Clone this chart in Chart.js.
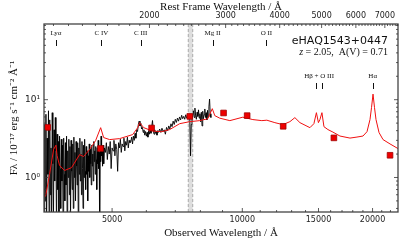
<!DOCTYPE html>
<html>
<head>
<meta charset="utf-8">
<script src="https://cdn.jsdelivr.net/npm/chart.js@4.4.0/dist/chart.umd.min.js"></script>
<style>html,body{margin:0;padding:0;background:#fff;}</style>
</head>
<body>
<canvas id="c" width="407" height="242"></canvas>
<script>
const redshift = 2.05;
const obsMin = 3480, obsMax = 22900;
const fluxMin = 0.36, fluxMax = 94;

// observed spectrum (black)
const specWave = [
  3480,3492,3504,3516,3528,3540,3552,3564,3576,3588,
  3600,3612,3624,3636,3648,3660,3672,3684,3696,3708,
  3720,3732,3744,3756,3768,3780,3792,3804,3816,3828,
  3840,3852,3864,3876,3888,3900,3912,3924,3936,3948,
  3960,3972,3984,3996,4008,4020,4032,4044,4056,4068,
  4080,4092,4104,4116,4128,4140,4152,4164,4176,4188,
  4200,4212,4224,4236,4248,4260,4272,4284,4296,4308,
  4320,4332,4344,4356,4368,4380,4392,
  4404,4416,4428,4440,4452,4464,4476,4488,4500,4512,
  4524,4536,4548,4560,4572,4584,4596,4608,4620,4632,
  4644,4656,4668,4680,4692,4704,4716,4728,4740,4752,
  4764,4776,4788,4800,
  4825,4850,4875,4900,4925,4950,4975,5000,5025,5050,
  5075,5100,5125,5150,5175,5200,5225,5250,5275,5300,
  5325,5350,5375,5400,5425,5450,5475,5500,
  5525,5550,5575,5600,5625,5650,5675,5700,5725,5750,
  5775,5800,5825,5850,5875,5900,5925,5950,5975,6000,
  6025,6050,6075,6100,6125,6150,6175,6200,6225,6250,
  6275,6300,6325,6350,6375,6400,
  6440,6480,6520,6560,6600,6640,6680,6720,6760,6800,
  6840,6880,6920,6960,7000,7040,7080,7120,7160,7200,
  7240,7280,7320,7360,7400,7440,7480,7520,
  7560,7590,7620,7650,7680,7710,7740,7770,7800,7830,
  7860,7890,7920,7950,7980,8010,8040,8070,8100,8130,
  8160,8190,8220,8250,8280,8310,8340,8370,8400,8430,8460
];
const specFlux = [
  0.3,4.8,0.5,6.5,0.2,3.2,1.1,7.2,0.3,5.5,
  0.6,2.4,0.2,6.8,1.5,0.3,4.1,0.9,5.9,2.2,
  0.2,3.6,0.7,2.9,0.3,3.4,1.3,0.4,3.1,0.9,
  2.6,0.25,3.2,1.1,0.5,2.8,0.8,3.4,0.3,2.2,
  1.0,3.1,0.6,2.5,0.3,3.0,1.2,0.7,2.7,0.4,
  3.3,1.0,2.1,0.5,2.9,1.4,0.8,2.8,0.3,2.4,
  1.1,3.2,0.9,2.0,0.6,2.9,1.3,0.4,2.6,1.0,
  3.1,1.2,0.7,2.5,1.1,2.2,0.5,
  1.9,1.2,2.7,1.0,2.3,1.5,0.8,2.6,1.4,2.0,
  0.9,2.9,1.6,2.2,1.1,2.5,1.7,0.7,2.4,1.5,
  3.0,1.3,2.1,0.2,2.4,1.6,3.4,1.9,2.3,1.4,
  2.6,2.0,1.5,2.4,
  2.1,2.8,1.7,2.5,2.0,2.9,1.3,2.4,2.2,3.0,
  1.9,2.7,2.3,1.2,2.8,2.4,3.1,2.1,2.7,2.5,
  3.2,2.2,2.9,2.6,3.3,2.4,3.0,2.8,
  2.9,3.3,2.7,3.4,3.0,3.7,3.2,4.1,3.9,4.8,
  5.3,4.6,5.0,4.2,4.4,3.8,4.1,3.5,3.9,3.4,
  3.8,3.3,4.0,3.6,4.3,3.7,4.5,5.4,4.0,3.6,
  4.1,3.7,3.9,3.5,4.0,3.8,
  4.2,3.8,4.3,3.9,4.1,3.6,4.4,4.0,4.6,4.2,
  4.9,4.5,5.3,4.8,5.6,5.1,5.8,5.3,6.0,5.5,
  6.3,5.7,6.1,5.6,6.4,5.8,6.2,5.9,
  5.8,1.9,4.8,5.6,6.3,7.2,5.9,7.8,6.2,5.6,
  6.9,6.1,7.4,5.8,6.6,5.2,6.9,4.6,7.1,5.7,
  6.4,7.6,5.9,6.8,5.5,7.3,6.0,8.1,10.2,6.6,5.9
];

// quasar model (red line)
const modelWave = [3509,3584,3662,3709,3731,3780,3882,4030,4206,4295,4436,4580,4705,4780,4935,5204,
  5579,5731,5790,5916,6206,6511,6794,7167,7558,7973,8322,8523,8636,8868,9357,10027,10576,11094,
  11394,11891,12407,12882,13228,13589,14330,14637,14834,14992,15113,15276,15440,15771,16198,16814,
  17737,18408,19005,19417,19729,19888,20049,20211,20370,20701,21145,21948,22909];
const modelFlux = [0.57,1.09,2.29,2.6,1.91,1.43,1.23,1.34,1.97,1.86,2.29,2.98,4.37,3.26,3.07,3.16,
  3.56,4.37,5.07,4.37,3.95,3.88,4.13,4.92,5.22,5.38,5.7,7.67,6.24,5.79,5.38,5.96,5.55,5.38,
  5.45,5.07,4.78,5.22,5.88,5.07,4.37,4.92,6.81,5.07,5.55,6.81,4.5,4.13,3.83,3.41,
  3.21,3.31,3.41,3.88,5.55,7.9,11.8,7.9,5.55,3.78,3.07,2.7,2.35];

// photometry (red squares)
const photWave = [3550, 4700, 6170, 7560, 9050, 10260, 12430, 16280, 21950];
const photFlux = [4.4, 2.36, 4.33, 6.1, 6.75, 6.24, 4.55, 3.23, 1.93];

// emission lines (rest frame)
const lineLabels = ['Lyα', 'C IV', 'C III', 'Mg II', 'O II', 'Hβ + O III', 'Hα'];
const lineGroups = [[1216], [1549], [1909], [2799], [3727], [4861, 5007], [6563]];
const lineRow = [0, 0, 0, 0, 0, 1, 1];

// telluric band (observed)
const bandLo = 7500, bandHi = 7680;

// axis ticks
const obsLabels = [5000, 10000, 15000, 20000];
const restLabels = [2000, 3000, 4000, 5000, 6000, 7000];
const yLabels = [1, 10];
const yLabelText = ['10⁰', '10¹'];

const obsTicks = [];
for (let w = 4000; w <= 22000; w += 1000) obsTicks.push(w);
const restTicks = [];
for (let w = 1200; w <= 7500; w += 100) restTicks.push(w);
const yTicks = [];
[0.1, 1, 10].forEach(d => { for (let k = 1; k <= 9; k++) { const v = +(k * d).toPrecision(2); if (v >= fluxMin && v <= fluxMax) yTicks.push(v); } });

const pts = (xs, ys) => xs.map((x, i) => ({ x: x, y: ys[i] }));

const decor = {
  id: 'decor',
  beforeDatasetsDraw(chart) {
    const { ctx, chartArea: a, scales: { x } } = chart;
    const l = x.getPixelForValue(bandLo), r = x.getPixelForValue(bandHi);
    ctx.save();
    ctx.fillStyle = 'rgba(200,200,200,0.6)';
    ctx.fillRect(l, a.top, r - l, a.bottom - a.top);
    ctx.strokeStyle = '#aaaaaa';
    ctx.lineWidth = 1;
    ctx.setLineDash([3, 2]);
    [l, r].forEach(p => { ctx.beginPath(); ctx.moveTo(p, a.top); ctx.lineTo(p, a.bottom); ctx.stroke(); });
    ctx.restore();
  },
  afterDatasetsDraw(chart) {
    const { ctx, chartArea: a, scales: { x, x2, y } } = chart;
    ctx.save();
    // frame
    ctx.strokeStyle = '#444';
    ctx.lineWidth = 1.3;
    ctx.strokeRect(a.left, a.top, a.right - a.left, a.bottom - a.top);
    // inward ticks
    ctx.lineWidth = 0.8;
    ctx.strokeStyle = '#333';
    const seg = (x1, y1, x2_, y2) => { ctx.beginPath(); ctx.moveTo(x1, y1); ctx.lineTo(x2_, y2); ctx.stroke(); };
    x.ticks.forEach(t => {
      const p = x.getPixelForValue(t.value), len = obsLabels.includes(t.value) ? 4 : 2;
      seg(p, a.bottom, p, a.bottom - len);
    });
    x2.ticks.forEach(t => {
      const p = x2.getPixelForValue(t.value), len = restLabels.includes(t.value) ? 4 : 2;
      seg(p, a.top, p, a.top + len);
    });
    y.ticks.forEach(t => {
      const p = y.getPixelForValue(t.value), len = yLabels.includes(t.value) ? 4 : 2;
      seg(a.left, p, a.left + len, p);
      seg(a.right, p, a.right - len, p);
    });
    // emission line markers
    ctx.fillStyle = '#111';
    ctx.strokeStyle = '#111';
    ctx.lineWidth = 1;
    ctx.font = '7px "Liberation Serif"';
    ctx.textAlign = 'center';
    ctx.textBaseline = 'middle';
    lineGroups.forEach((g, i) => {
      const px = g.map(w => x.getPixelForValue(w * (1 + redshift)));
      const rowTop = lineRow[i] === 0 ? a.top + 9 : a.top + 52;
      const mid = px.reduce((s, v) => s + v, 0) / px.length;
      ctx.fillText(lineLabels[i], mid, rowTop);
      px.forEach(p => seg(Math.round(p) + 0.5, rowTop + 7, Math.round(p) + 0.5, rowTop + 13));
    });
    // object name and parameters
    ctx.textAlign = 'right';
    ctx.font = '11px "DejaVu Sans"';
    ctx.fillText('eHAQ1543+0447', a.right - 10, a.top + 17);
    ctx.font = '10px "Liberation Serif"';
    const rest = ' = 2.05,  A(V) = 0.71';
    ctx.fillText(rest, a.right - 10, a.top + 28);
    const wRest = ctx.measureText(rest).width;
    ctx.font = 'italic 10px "Liberation Serif"';
    ctx.fillText('z', a.right - 10 - wRest, a.top + 28);
    ctx.restore();
  }
};

const tickFont = { family: 'DejaVu Sans', size: 8 };
const titleFont = { family: 'Liberation Serif', size: 11 };

new Chart(document.getElementById('c'), {
  type: 'line',
  data: {
    datasets: [
      { label: 'photometry', data: pts(photWave, photFlux), showLine: false, pointStyle: 'rect',
        pointRadius: 4, backgroundColor: '#ee0000', borderColor: '#a00000', borderWidth: 0.8 },
      { label: 'model', data: pts(modelWave, modelFlux), borderColor: '#f01010', borderWidth: 1,
        pointRadius: 0, tension: 0 },
      { label: 'spectrum', data: pts(specWave, specFlux), borderColor: '#000', borderWidth: 0.9,
        pointRadius: 0, tension: 0 }
    ]
  },
  options: {
    responsive: false,
    animation: false,
    devicePixelRatio: 1,
    layout: { padding: { left: 0, right: 9, top: 0, bottom: 0 } },
    plugins: { legend: { display: false }, tooltip: { enabled: false } },
    scales: {
      x: {
        type: 'logarithmic', position: 'bottom', min: obsMin, max: obsMax,
        afterBuildTicks: s => { s.ticks = obsTicks.map(v => ({ value: v })); },
        afterFit: s => { s.height = 30; },
        grid: { display: false, drawTicks: false }, border: { display: false },
        ticks: { autoSkip: false, maxRotation: 0, minRotation: 0, padding: 3, color: '#222', font: tickFont,
          callback: v => obsLabels.includes(v) ? String(v) : '' },
        title: { display: true, text: 'Observed Wavelength / Å', color: '#111', font: titleFont,
          padding: { top: 0, bottom: 2 } }
      },
      x2: {
        axis: 'x', type: 'logarithmic', position: 'top',
        min: obsMin / (1 + redshift), max: obsMax / (1 + redshift),
        afterBuildTicks: s => { s.ticks = restTicks.map(v => ({ value: v })); },
        afterFit: s => { s.height = 24; },
        grid: { display: false, drawTicks: false }, border: { display: false },
        ticks: { autoSkip: false, maxRotation: 0, minRotation: 0, padding: 3, color: '#222', font: tickFont,
          callback: v => restLabels.includes(v) ? String(v) : '' },
        title: { display: true, text: 'Rest Frame Wavelength / Å', color: '#111', font: titleFont,
          padding: { top: 1, bottom: 0 } }
      },
      y: {
        type: 'logarithmic', position: 'left', min: fluxMin, max: fluxMax,
        afterBuildTicks: s => { s.ticks = yTicks.map(v => ({ value: v })); },
        afterFit: s => { s.width = 44; },
        grid: { display: false, drawTicks: false }, border: { display: false },
        ticks: { autoSkip: false, padding: 4, color: '#222', font: { family: 'DejaVu Sans', size: 9 },
          callback: v => { const i = yLabels.indexOf(v); return i >= 0 ? yLabelText[i] : ''; } },
        title: { display: true, text: 'Fλ / 10⁻¹⁷ erg s⁻¹ cm⁻² Å⁻¹', color: '#111',
          font: { family: 'Liberation Serif', size: 11 }, padding: { top: 8, bottom: 0 } }
      }
    }
  },
  plugins: [decor]
});
</script>
</body>
</html>
